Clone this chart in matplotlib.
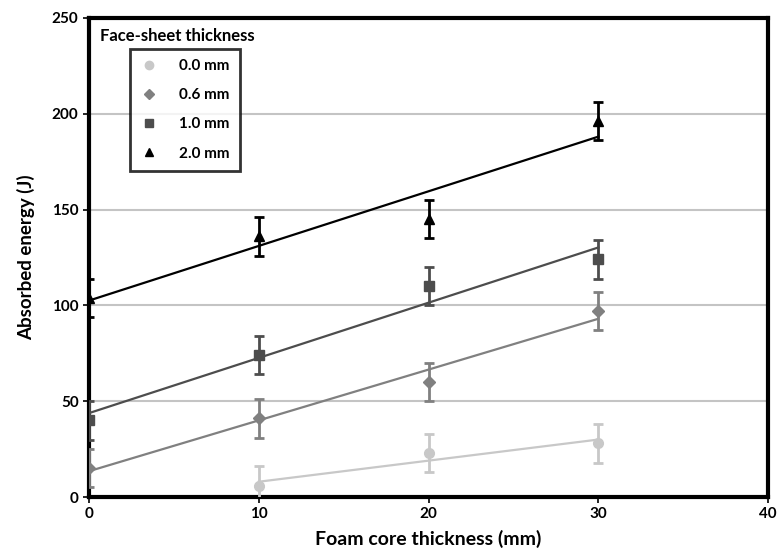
import numpy as np
import matplotlib.pyplot as plt
from matplotlib.lines import Line2D

# Foam core thickness (mm) and absorbed energy (J) per face-sheet thickness
x_core = [0, 10, 20, 30]
x_00 = [10, 20, 30]
e_00 = [6, 23, 28]
x_06 = x_core
e_06 = [15, 41, 60, 97]
x_10 = x_core
e_10 = [40, 74, 110, 124]
x_20 = x_core
e_20 = [104, 136, 145, 196]
err = 10

series = [
    (x_00, e_00, "0.0 mm", "#c8c8c8", "o", 7),
    (x_06, e_06, "0.6 mm", "#808080", "D", 6),
    (x_10, e_10, "1.0 mm", "#4d4d4d", "s", 7),
    (x_20, e_20, "2.0 mm", "#000000", "^", 7),
]

plt.rcParams['font.family'] = ['Lato', 'DejaVu Sans']
plt.rcParams['font.weight'] = 'bold'

fig = plt.figure(figsize=(7.79, 5.56), dpi=100)
ax = fig.add_axes([0.1143, 0.106, 0.8717, 0.862])

handles = []
for xs, ys, lab, col, mk, ms in series:
    xs = np.array(xs)
    ys = np.array(ys)
    # linear trend line over the measured range
    k, b = np.polyfit(xs, ys, 1)
    xl = np.array([xs.min(), xs.max()])
    ax.plot(xl, k * xl + b, color=col, lw=1.6, zorder=3)
    ax.errorbar(xs, ys, yerr=err, fmt=mk, color=col, ms=ms, ecolor=col,
                elinewidth=2, capsize=3.5, capthick=2, zorder=4)
    handles.append(Line2D([], [], ls="none", marker=mk, color=col, ms=ms - 1, label=lab))

ax.set_xlim(0, 40)
ax.set_ylim(0, 250)
ax.set_xticks([0, 10, 20, 30, 40])
ax.set_yticks([0, 50, 100, 150, 200, 250])
ax.yaxis.grid(True, color="#c4c4c4", lw=1.5)
ax.set_axisbelow(True)
for s in ax.spines.values():
    s.set_linewidth(3)
ax.tick_params(axis="both", labelsize=11, width=1.2, length=4, direction="out")
ax.set_xlabel("Foam core thickness (mm)", fontsize=14, fontweight="bold", labelpad=6)
ax.set_ylabel("Absorbed energy (J)", fontsize=13.5, fontweight="bold", labelpad=12)

ax.text(0.016, 0.978, "Face-sheet thickness", transform=ax.transAxes,
        fontsize=12, fontweight="bold", va="top", ha="left")
leg = ax.legend(handles=handles, loc="upper left", bbox_to_anchor=(0.06, 0.935),
                frameon=True, fancybox=False, edgecolor="black", fontsize=11,
                handletextpad=1.4, labelspacing=1.0, borderpad=0.65,
                handlelength=1.2, borderaxespad=0)
leg.get_frame().set_linewidth(2)

fig.savefig("out.png", dpi=100)
